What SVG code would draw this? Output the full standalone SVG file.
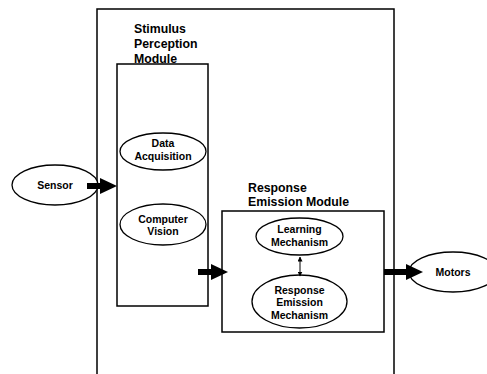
<svg xmlns="http://www.w3.org/2000/svg" width="487" height="374" viewBox="0 0 487 374">
<style>
.box{fill:none;stroke:#000;stroke-width:1.5}
.node{fill:#fff;stroke:#000;stroke-width:1.3}
.t{font-family:"Liberation Sans",Arial,sans-serif;font-weight:bold;fill:#000}
.title{font-size:12.3px}
.lbl{font-size:10.5px;text-anchor:middle}
.shaft{stroke:#000;stroke-width:6;fill:none}
.thin{stroke:#000;stroke-width:1;fill:none}
</style>
<defs>
<marker id="sm" viewBox="0 0 10 10" refX="9" refY="5" markerWidth="5" markerHeight="5" orient="auto-start-reverse" markerUnits="userSpaceOnUse">
<path d="M0,0 L10,5 L0,10 z" fill="#000"/>
</marker>
</defs>
<rect width="487" height="374" fill="#fff"/>
<g id="outer"><rect class="box" x="97" y="9" width="297" height="380"/></g>
<g id="stimulus-module">
<rect class="box" x="117" y="64" width="91" height="242"/>
<text class="t title" x="134" y="33">Stimulus</text>
<text class="t title" x="134" y="48">Perception</text>
<text class="t title" x="134" y="63">Module</text>
</g>
<g id="data-acquisition">
<ellipse class="node" cx="163" cy="151.5" rx="43" ry="18.5"/>
<text class="t lbl" x="163" y="147">Data</text>
<text class="t lbl" x="163" y="159.5">Acquisition</text>
</g>
<g id="computer-vision">
<ellipse class="node" cx="163" cy="224.5" rx="43" ry="20.5"/>
<text class="t lbl" x="163" y="222.5">Computer</text>
<text class="t lbl" x="163" y="234.5">Vision</text>
</g>
<g id="response-module">
<rect class="box" x="222" y="211" width="162" height="121"/>
<text class="t title" x="248" y="192">Response</text>
<text class="t title" x="248" y="205.5">Emission Module</text>
</g>
<g id="learning-mechanism">
<ellipse class="node" cx="299.5" cy="236.5" rx="43.5" ry="18.5"/>
<text class="t lbl" x="299.5" y="233">Learning</text>
<text class="t lbl" x="299.5" y="246">Mechanism</text>
</g>
<g id="response-emission-mechanism">
<ellipse class="node" cx="299.5" cy="301.5" rx="47.5" ry="26.5"/>
<text class="t lbl" x="299.5" y="293.5">Response</text>
<text class="t lbl" x="299.5" y="306">Emission</text>
<text class="t lbl" x="299.5" y="318.5">Mechanism</text>
</g>
<g id="sensor">
<ellipse class="node" cx="55" cy="185" rx="43" ry="20"/>
<text class="t lbl" x="55" y="189">Sensor</text>
</g>
<g id="motors">
<ellipse class="node" cx="453" cy="272" rx="44" ry="20"/>
<text class="t lbl" x="453" y="276">Motors</text>
</g>
<g id="connectors">
<line class="shaft" x1="87" y1="186" x2="101" y2="186"/>
<polygon points="100,178 117,186 100,194" fill="#000"/>
<line class="shaft" x1="198" y1="272" x2="212" y2="272"/>
<polygon points="211,264 228,272 211,280" fill="#000"/>
<line class="shaft" x1="384" y1="272" x2="407" y2="272"/>
<polygon points="406,264 423,272 406,280" fill="#000"/>
<line class="thin" x1="300" y1="257" x2="300" y2="276" marker-start="url(#sm)" marker-end="url(#sm)"/>
</g>
</svg>
